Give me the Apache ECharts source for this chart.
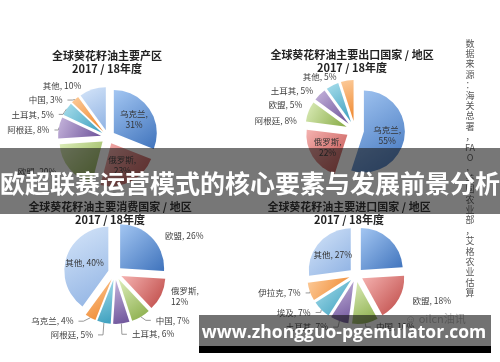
<!DOCTYPE html>
<html><head><meta charset="utf-8">
<script src="https://cdn.jsdelivr.net/npm/echarts@6/dist/echarts.min.js"></script>
<style>html,body{margin:0;padding:0;background:#fff}#c{width:500px;height:362px}</style>
</head><body><div id="c"></div>
<script>
// ---- data ----
const season = '2017 / 18年度';
const chartTitles = ['全球葵花籽油主要产区', '全球葵花籽油主要出口国家 / 地区', '全球葵花籽油主要消费国家 / 地区', '全球葵花籽油主要进口国家 / 地区'];
const prodNames = ['乌克兰', '俄罗斯', '欧盟', '阿根廷', '土耳其', '中国', '其他'];
const prodValues = [31, 23, 20, 8, 5, 3, 10];
const exportNames = ['乌克兰', '俄罗斯', '阿根廷', '欧盟', '土耳其', '其他'];
const exportValues = [55, 22, 8, 5, 5, 5];
const consNames = ['欧盟', '俄罗斯', '中国', '土耳其', '阿根廷', '乌克兰', '其他'];
const consValues = [26, 12, 7, 6, 5, 4, 40];
const importNames = ['印度', '欧盟', '中国', '土耳其', '埃及', '伊拉克', '其他'];
const importValues = [24, 18, 10, 7, 7, 7, 27];
const bannerText = '欧超联赛运营模式的核心要素与发展前景分析';
const siteText = 'www.zhongguo-pgemulator.com';
const sourceText = '数据来源：海关总署，FAO，美国农业部，艾格农业估算';

// ---- styling / layout ----
const FONT = '"Noto Sans CJK SC", "Noto Sans", sans-serif';
const palette = [
  ['#A3C6F2', '#3F73BC'],
  ['#F5B3B1', '#BD4744'],
  ['#DDEDBB', '#86AA44'],
  ['#C6B5DC', '#6C5299'],
  ['#A9DEEC', '#3A9EBD'],
  ['#FCCB9A', '#EF852A'],
  ['#D5E5F9', '#8FB2E3']
];
function grad(i) {
  const p = palette[i % palette.length];
  return {type: 'linear', x: 0, y: 0, x2: 1, y2: 1, colorStops: [{offset: 0, color: p[0]}, {offset: 1, color: p[1]}]};
}
const layouts = [
  {cx: 108, cy: 137, r: 43, off: 7, tx: 107, ty: 49},
  {cx: 355, cy: 130, r: 41, off: 9, tx: 352, ty: 48},
  {cx: 115, cy: 273, r: 44, off: 7, tx: 110, ty: 200},
  {cx: 356, cy: 275, r: 42, off: 7, tx: 349, ty: 200}
];
const insideSets = [
  new Set(['乌克兰', '俄罗斯']), new Set(['乌克兰', '俄罗斯']), new Set(['其他']), new Set(['印度', '其他'])
];
const wrapSets = [
  new Set(['乌克兰', '俄罗斯']), new Set(['乌克兰', '俄罗斯']), new Set(['俄罗斯']), new Set([])
];
const lineSets = [
  new Set(['阿根廷', '土耳其', '中国']), new Set([]), new Set(['中国', '土耳其', '阿根廷', '乌克兰']), new Set(['中国', '土耳其', '埃及', '伊拉克'])
];

function buildSeries(k, names, values) {
  const L = layouts[k];
  return {
    type: 'pie', center: [L.cx, L.cy], radius: L.r, startAngle: 90, clockwise: true,
    selectedMode: 'multiple', selectedOffset: L.off, animation: false, silent: true,
    avoidLabelOverlap: true,
    label: {
      show: true, position: 'outside', fontSize: 8.5, color: '#404040', fontFamily: FONT, lineHeight: 11,
      formatter: p => wrapSets[k].has(p.name) ? p.name + ',\n' + p.value + '%' : p.name + ', ' + p.value + '%'
    },
    labelLine: {show: true, length: 4, length2: 5, lineStyle: {color: '#7f7f7f', width: 0.8}},
    select: {itemStyle: {borderWidth: 0}},
    data: names.map((n, i) => {
      const item = {name: n, value: values[i], selected: true, itemStyle: {color: grad(i)}};
      if (insideSets[k].has(n)) { item.label = {position: 'inside', color: '#333'}; item.labelLine = {show: false}; }
      else if (!lineSets[k].has(n)) { item.labelLine = {show: false}; }
      return item;
    })
  };
}

const chart = echarts.init(document.getElementById('c'));
chart.setOption({
  backgroundColor: '#ffffff',
  title: chartTitles.map((t, k) => ({
    text: t + '\n' + season, left: layouts[k].tx, top: layouts[k].ty, textAlign: 'center', padding: 0,
    textStyle: {fontSize: 11, fontWeight: 'bold', color: '#222', fontFamily: FONT, lineHeight: 13.5}
  })),
  series: [
    buildSeries(0, prodNames, prodValues),
    buildSeries(1, exportNames, exportValues),
    buildSeries(2, consNames, consValues),
    buildSeries(3, importNames, importValues)
  ],
  graphic: [
    {type: 'text', z: 50, x: 470, y: 38, style: {text: sourceText.replace('FAO', '\u0001').split('').map(c => c === '\u0001' ? 'FA\nO' : c).join('\n'), fontSize: 9, lineHeight: 10.4, fill: '#555', fontFamily: FONT, align: 'center', verticalAlign: 'top'}},
    {type: 'text', z: 50, left: 405, top: 313, style: {text: '☺ oilcn油讯', fontSize: 11, fill: '#bbb', fontFamily: FONT}},
    {type: 'rect', z: 100, shape: {x: 0, y: 148, width: 500, height: 66}, style: {fill: 'rgba(20,20,20,0.58)'}},
    {type: 'text', z: 101, x: 250, y: 183, style: {text: bannerText, fontSize: 25, fontWeight: 'bold', fill: '#fff', fontFamily: FONT, align: 'center', verticalAlign: 'middle'}},
    {type: 'rect', z: 100, shape: {x: 199, y: 315, width: 292, height: 31}, style: {fill: 'rgba(20,20,20,0.6)'}},
    {type: 'rect', z: 100, shape: {x: 199, y: 346, width: 292, height: 7}, style: {fill: '#000'}},
    {type: 'text', z: 101, x: 344, y: 333, style: {text: siteText, fontSize: 17.5, fontWeight: 'bold', fill: '#fff', fontFamily: '"Open Sans", sans-serif', align: 'center', verticalAlign: 'middle'}}
  ]
});
</script></body></html>
